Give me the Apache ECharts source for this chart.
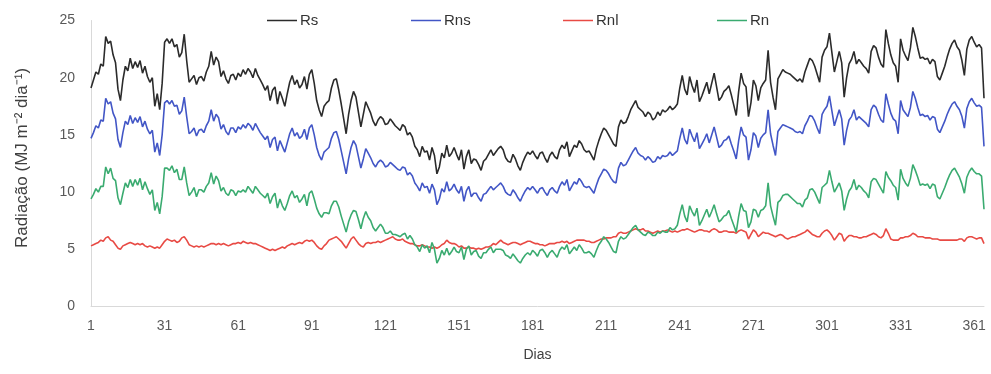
<!DOCTYPE html>
<html>
<head>
<meta charset="utf-8">
<script src="https://cdn.jsdelivr.net/npm/echarts@6/dist/echarts.min.js"></script>
<style>html,body{margin:0;padding:0;background:#fff}#c{width:991px;height:374px}</style>
</head>
<body>
<div id="c"></div>
<script>
// Day labels 1..365
const days = Array.from({length: 365}, (_, i) => String(i + 1));
const tickDays = ['1','31','61','91','121','151','181','211','241','271','301','331','361'];
const seriesNames = ['Rs', 'Rns', 'Rnl', 'Rn'];

const rs = [
19.1,19.8,20.5,20.3,21.2,21.0,23.6,23.0,23.2,22.0,21.3,19.0,18.0,19.8,21.0,20.6,21.7,20.8,21.4,20.9,
21.5,20.4,21.0,20.1,19.6,20.0,17.5,18.6,17.2,19.5,23.1,23.4,23.0,23.4,22.7,22.9,21.8,22.2,23.8,21.5,
19.6,19.9,20.2,19.4,20.0,20.1,19.7,20.5,21.0,22.3,21.1,21.8,21.4,20.1,20.6,19.9,19.5,20.2,20.3,19.8,
20.4,20.1,20.7,20.3,20.8,20.5,20.0,20.8,20.2,19.8,19.4,18.9,19.3,18.0,18.9,19.2,17.7,18.8,18.2,17.5,
18.6,19.6,20.2,19.4,19.8,19.1,19.4,20.1,19.0,20.3,20.7,19.5,18.0,17.2,16.6,17.5,17.8,18.0,19.1,19.8,
19.9,18.9,17.7,16.4,15.1,16.8,18.0,18.8,18.3,17.0,15.7,16.8,17.9,17.4,16.9,16.2,15.8,16.3,16.6,16.4,
15.9,16.0,16.4,16.1,15.8,15.6,15.4,15.9,15.7,15.0,15.2,14.8,14.0,13.7,13.1,14.0,13.5,13.6,12.8,13.9,
13.2,11.6,12.2,13.4,13.0,14.1,13.1,13.4,13.9,13.3,12.8,13.7,12.0,13.1,13.7,12.5,12.9,12.8,12.4,11.9,
12.7,12.9,13.3,13.7,13.2,13.5,13.8,14.0,13.7,13.0,12.7,12.6,13.3,12.9,12.3,11.9,12.6,13.1,13.5,13.3,
13.6,13.2,12.9,13.4,13.5,13.0,12.6,13.2,13.5,13.1,12.9,13.7,14.1,13.8,14.4,13.1,13.6,14.1,13.9,14.5,
14.2,13.7,13.5,13.6,13.2,12.8,13.8,14.5,15.1,15.6,15.4,15.0,14.6,14.2,14.0,15.7,16.3,16.0,16.1,16.6,
17.2,17.6,18.0,17.4,17.2,17.0,16.6,17.0,16.8,16.3,16.5,17.0,16.7,17.2,17.0,17.2,17.5,17.2,17.4,17.7,
19.1,20.2,19.0,18.5,20.1,19.3,18.7,19.8,17.9,18.4,19.0,19.6,18.6,19.5,20.4,19.2,18.0,18.3,18.8,19.0,
19.3,18.5,17.6,16.7,18.8,20.4,19.5,19.2,16.6,17.8,19.8,19.3,18.0,19.1,19.5,19.8,22.4,19.6,18.3,17.2,
19.9,20.3,20.7,20.5,20.4,20.3,20.1,19.9,19.7,19.9,19.6,20.5,21.1,21.7,21.5,21.0,20.3,19.6,21.8,22.4,
22.7,23.9,22.2,20.5,21.4,22.3,21.3,18.3,20.0,21.2,21.6,22.3,21.2,21.6,21.3,21.0,20.8,20.4,22.3,22.8,
22.6,21.8,21.2,20.9,24.2,23.0,22.0,21.3,21.0,19.6,23.4,22.4,21.9,21.5,22.6,24.4,23.6,22.6,21.7,21.8,
21.6,21.7,21.2,21.6,21.4,20.1,19.8,20.4,21.0,21.8,22.5,23.0,23.3,22.7,22.4,21.5,20.2,22.5,23.3,23.6,
23.1,22.7,22.9,22.6,18.2
];

const rns = [
14.7,15.2,15.8,15.6,16.3,16.2,18.2,17.7,17.9,16.9,16.4,14.6,13.9,15.2,16.2,15.9,16.7,16.0,16.5,16.1,
16.6,15.7,16.2,15.5,15.1,15.4,13.5,14.3,13.2,15.0,17.8,18.0,17.7,18.0,17.5,17.6,16.8,17.1,18.3,16.6,
15.1,15.3,15.6,14.9,15.4,15.5,15.2,15.8,16.2,17.2,16.2,16.8,16.5,15.5,15.9,15.3,15.0,15.6,15.6,15.2,
15.7,15.5,15.9,15.6,16.0,15.8,15.4,16.0,15.6,15.2,14.9,14.6,14.9,13.9,14.6,14.8,13.6,14.5,14.0,13.5,
14.3,15.1,15.6,14.9,15.2,14.7,14.9,15.5,14.6,15.6,15.9,15.0,13.9,13.2,12.8,13.5,13.7,13.9,14.7,15.2,
15.3,14.6,13.6,12.6,11.6,12.9,13.9,14.5,14.1,13.1,12.1,12.9,13.8,13.4,13.0,12.5,12.2,12.6,12.8,12.6,
12.2,12.3,12.6,12.4,12.2,12.0,11.9,12.2,12.1,11.5,11.7,11.4,10.8,10.5,10.1,10.8,10.4,10.5,9.9,10.7,
10.2,8.9,9.4,10.3,10.0,10.9,10.1,10.3,10.7,10.2,9.9,10.5,9.2,10.1,10.5,9.6,9.9,9.9,9.5,9.2,
9.8,9.9,10.2,10.5,10.2,10.4,10.6,10.8,10.5,10.0,9.8,9.7,10.2,9.9,9.5,9.2,9.7,10.1,10.4,10.2,
10.5,10.2,9.9,10.3,10.4,10.0,9.7,10.2,10.4,10.1,9.9,10.5,10.9,10.6,11.1,10.1,10.5,10.9,10.7,11.2,
10.9,10.5,10.4,10.5,10.2,9.9,10.6,11.2,11.6,12.0,11.9,11.6,11.2,10.9,10.8,12.1,12.6,12.3,12.4,12.8,
13.2,13.6,13.9,13.4,13.2,13.1,12.8,13.1,12.9,12.6,12.7,13.1,12.9,13.2,13.1,13.2,13.5,13.2,13.4,13.6,
14.7,15.6,14.6,14.2,15.5,14.9,14.4,15.2,13.8,14.2,14.6,15.1,14.3,15.0,15.7,14.8,13.9,14.1,14.5,14.6,
14.9,14.2,13.6,12.9,14.5,15.7,15.0,14.8,12.8,13.7,15.2,14.9,13.9,14.7,15.0,15.2,17.2,15.1,14.1,13.2,
15.3,15.6,15.9,15.8,15.7,15.6,15.5,15.3,15.2,15.3,15.1,15.8,16.2,16.7,16.6,16.2,15.6,15.1,16.8,17.2,
17.5,18.4,17.1,15.8,16.5,17.2,16.4,14.1,15.4,16.3,16.6,17.2,16.3,16.6,16.4,16.2,16.0,15.7,17.2,17.6,
17.4,16.8,16.3,16.1,18.6,17.7,16.9,16.4,16.2,15.1,18.0,17.2,16.9,16.6,17.4,18.8,18.2,17.4,16.7,16.8,
16.6,16.7,16.3,16.6,16.5,15.5,15.2,15.7,16.2,16.8,17.3,17.7,17.9,17.5,17.2,16.6,15.6,17.3,17.9,18.2,
17.8,17.5,17.6,17.4,14.0
];

const rnl = [
5.3,5.4,5.5,5.6,5.8,5.7,6.0,6.1,5.8,5.7,5.4,5.1,5.0,5.3,5.4,5.5,5.6,5.5,5.4,5.5,
5.4,5.5,5.3,5.2,5.3,5.2,5.1,5.2,5.1,5.4,5.7,5.9,5.8,5.7,5.8,5.6,5.7,6.0,6.1,5.8,
5.4,5.3,5.2,5.3,5.2,5.3,5.2,5.3,5.4,5.5,5.5,5.4,5.5,5.4,5.5,5.4,5.3,5.4,5.5,5.5,
5.6,5.5,5.7,5.6,5.5,5.6,5.5,5.5,5.4,5.3,5.2,5.1,5.0,4.9,5.0,4.9,5.0,5.1,5.2,5.1,
5.3,5.4,5.5,5.4,5.5,5.6,5.5,5.7,5.8,5.7,5.8,5.6,5.3,5.1,5.0,5.3,5.5,5.8,5.9,6.0,
6.1,5.9,5.7,5.4,5.1,5.5,5.9,6.1,5.8,5.5,5.3,5.2,5.5,5.6,5.5,5.6,5.6,5.7,5.6,5.7,
5.8,5.9,6.0,6.1,5.9,5.8,5.8,5.9,5.7,5.6,5.5,5.5,5.4,5.3,5.3,5.4,5.3,5.2,5.2,5.1,
5.2,5.1,5.2,5.4,5.5,5.8,5.6,5.5,5.5,5.4,5.2,5.3,5.1,5.1,5.2,5.1,5.1,5.0,5.1,5.0,
5.1,5.2,5.2,5.3,5.5,5.4,5.6,5.8,5.6,5.5,5.4,5.5,5.6,5.6,5.5,5.4,5.5,5.6,5.7,5.7,
5.6,5.5,5.5,5.4,5.4,5.3,5.4,5.5,5.5,5.5,5.6,5.6,5.7,5.6,5.7,5.5,5.6,5.7,5.8,5.8,
5.8,5.8,5.7,5.7,5.6,5.6,5.7,5.8,5.9,5.9,6.0,6.0,6.0,6.1,6.1,6.4,6.5,6.4,6.4,6.5,
6.6,6.7,6.8,6.7,6.7,6.8,6.6,6.6,6.5,6.4,6.5,6.6,6.5,6.6,6.6,6.7,6.6,6.5,6.6,6.5,
6.6,6.7,6.7,6.8,6.7,6.6,6.5,6.6,6.7,6.7,6.6,6.6,6.5,6.7,6.8,6.7,6.5,6.5,6.6,6.6,
6.5,6.5,6.5,6.4,6.6,6.7,6.6,6.5,5.9,6.3,6.7,6.5,6.1,6.3,6.5,6.4,6.4,6.3,6.2,6.1,
6.2,6.3,6.2,6.0,5.9,6.0,6.1,6.1,6.2,6.3,6.4,6.5,6.7,6.5,6.3,6.2,6.1,6.1,6.4,6.6,
6.7,6.5,6.2,5.8,6.1,6.4,6.3,5.7,6.0,6.2,6.2,6.1,6.1,6.0,6.0,6.1,6.1,6.2,6.3,6.4,
6.3,6.1,6.0,6.2,6.8,6.4,5.9,5.8,5.8,5.8,6.0,6.0,6.1,6.1,6.2,6.4,6.3,6.1,6.1,6.1,
6.0,6.0,6.0,5.9,5.9,5.9,5.8,5.8,5.8,5.8,5.8,5.8,5.8,5.8,5.9,5.9,5.7,6.0,6.1,6.1,
6.0,5.9,6.0,6.0,5.5
];

const rn = [
9.4,9.8,10.3,10.0,10.5,10.5,12.2,11.6,12.1,11.2,11.0,9.5,8.9,9.9,10.8,10.4,11.1,10.5,11.1,10.6,
11.2,10.2,10.9,10.3,9.8,10.2,8.4,9.1,8.1,9.6,12.1,12.1,11.9,12.3,11.7,12.0,11.1,11.1,12.2,10.8,
9.7,10.0,10.4,9.6,10.2,10.2,10.0,10.5,10.8,11.7,10.7,11.4,11.0,10.1,10.4,9.9,9.7,10.2,10.1,9.7,
10.1,10.0,10.2,10.0,10.5,10.2,9.9,10.5,10.2,9.9,9.7,9.5,9.9,9.0,9.6,9.9,8.6,9.4,8.8,8.4,
9.0,9.7,10.1,9.5,9.7,9.1,9.4,9.8,8.8,9.9,10.1,9.4,8.6,8.1,7.8,8.2,8.2,8.1,8.8,9.2,
9.2,8.7,7.9,7.2,6.5,7.4,8.0,8.4,8.3,7.6,6.8,7.7,8.3,7.8,7.5,6.9,6.6,6.9,7.2,6.9,
6.4,6.4,6.6,6.3,6.3,6.2,6.1,6.3,6.4,5.9,6.2,5.9,5.4,5.2,4.8,5.4,5.1,5.3,4.7,5.6,
5.0,3.8,4.2,4.9,4.5,5.1,4.5,4.8,5.2,4.8,4.7,5.2,4.1,5.0,5.3,4.5,4.8,4.9,4.4,4.2,
4.7,4.7,5.0,5.2,4.7,5.0,5.0,5.0,4.9,4.5,4.4,4.2,4.6,4.3,4.0,3.8,4.2,4.5,4.7,4.5,
4.9,4.7,4.4,4.9,5.0,4.7,4.3,4.7,4.9,4.6,4.3,4.9,5.2,5.0,5.4,4.6,4.9,5.2,4.9,5.4,
5.1,4.7,4.7,4.8,4.6,4.3,4.9,5.4,5.7,6.1,5.9,5.6,5.2,4.8,4.7,5.7,6.1,5.9,6.0,6.3,
6.6,6.9,7.1,6.7,6.5,6.3,6.2,6.5,6.4,6.2,6.2,6.5,6.4,6.6,6.5,6.5,6.9,6.7,6.8,7.1,
8.1,8.9,7.9,7.4,8.8,8.3,7.9,8.6,7.1,7.5,8.0,8.5,7.8,8.3,8.9,8.1,7.4,7.6,7.9,8.0,
8.4,7.7,7.1,6.5,7.9,9.0,8.4,8.3,6.9,7.4,8.5,8.4,7.8,8.4,8.5,8.8,10.8,8.8,7.9,7.1,
9.1,9.3,9.7,9.8,9.8,9.6,9.4,9.2,9.0,9.0,8.7,9.3,9.5,10.2,10.3,10.0,9.5,9.0,10.4,10.6,
10.8,11.9,10.9,10.0,10.4,10.8,10.1,8.4,9.4,10.1,10.4,11.1,10.2,10.6,10.4,10.1,9.9,9.5,10.9,11.2,
11.1,10.7,10.3,9.9,11.8,11.3,11.0,10.6,10.4,9.3,12.0,11.2,10.8,10.5,11.2,12.4,11.9,11.3,10.6,10.7,
10.6,10.7,10.3,10.7,10.6,9.6,9.4,9.9,10.4,11.0,11.5,11.9,12.1,11.7,11.3,10.7,9.9,11.3,11.8,12.1,
11.8,11.6,11.6,11.4,8.5
];

const colors = ['#2b2b2b', '#4256c6', '#e84a44', '#3aab70'];
const values = [rs, rns, rnl, rn];
const legendLeft = [262, 406, 558, 712];

const chart = echarts.init(document.getElementById('c'), null, {renderer: 'canvas'});
chart.setOption({
  animation: false,
  backgroundColor: '#ffffff',
  textStyle: {fontFamily: 'Liberation Sans, Arial, sans-serif'},
  legend: seriesNames.map((n, i) => ({
    data: [n],
    left: legendLeft[i],
    top: 8,
    icon: 'rect',
    itemWidth: 30,
    itemHeight: 1.5,
    itemGap: 0,
    textStyle: {fontSize: 15, color: '#333333', fontFamily: 'Liberation Sans, Arial, sans-serif', padding: [0, 0, 0, -2]}
  })),
  grid: {left: 91, right: 7, top: 20.5, bottom: 67.5, containLabel: false},
  xAxis: {
    type: 'category',
    data: days,
    boundaryGap: false,
    name: 'Dias',
    nameLocation: 'middle',
    nameGap: 42,
    nameTextStyle: {fontSize: 14, color: '#404040'},
    axisLine: {show: true, lineStyle: {color: '#d9d9d9', width: 1}},
    axisTick: {show: false},
    splitLine: {show: false},
    axisLabel: {
      interval: function (idx, val) { return tickDays.indexOf(val) >= 0; },
      fontSize: 14, color: '#595959', margin: 13
    }
  },
  yAxis: {
    type: 'value',
    min: 0, max: 25, interval: 5,
    name: 'Radiação (MJ m\u207B\u00B2 dia\u207B\u00B9)',
    nameLocation: 'middle',
    nameGap: 60,
    nameTextStyle: {fontSize: 17, color: '#404040', padding: [0, 0, 0, 11]},
    axisLine: {show: true, lineStyle: {color: '#d9d9d9', width: 1}},
    axisTick: {show: false},
    splitLine: {show: false},
    axisLabel: {fontSize: 14, color: '#595959', margin: 16}
  },
  series: seriesNames.map((n, i) => ({
    name: n,
    type: 'line',
    data: values[i],
    symbol: 'none',
    showSymbol: false,
    smooth: false,
    lineStyle: {color: colors[i], width: 1.6},
    itemStyle: {color: colors[i]}
  }))
});
</script>
</body>
</html>
